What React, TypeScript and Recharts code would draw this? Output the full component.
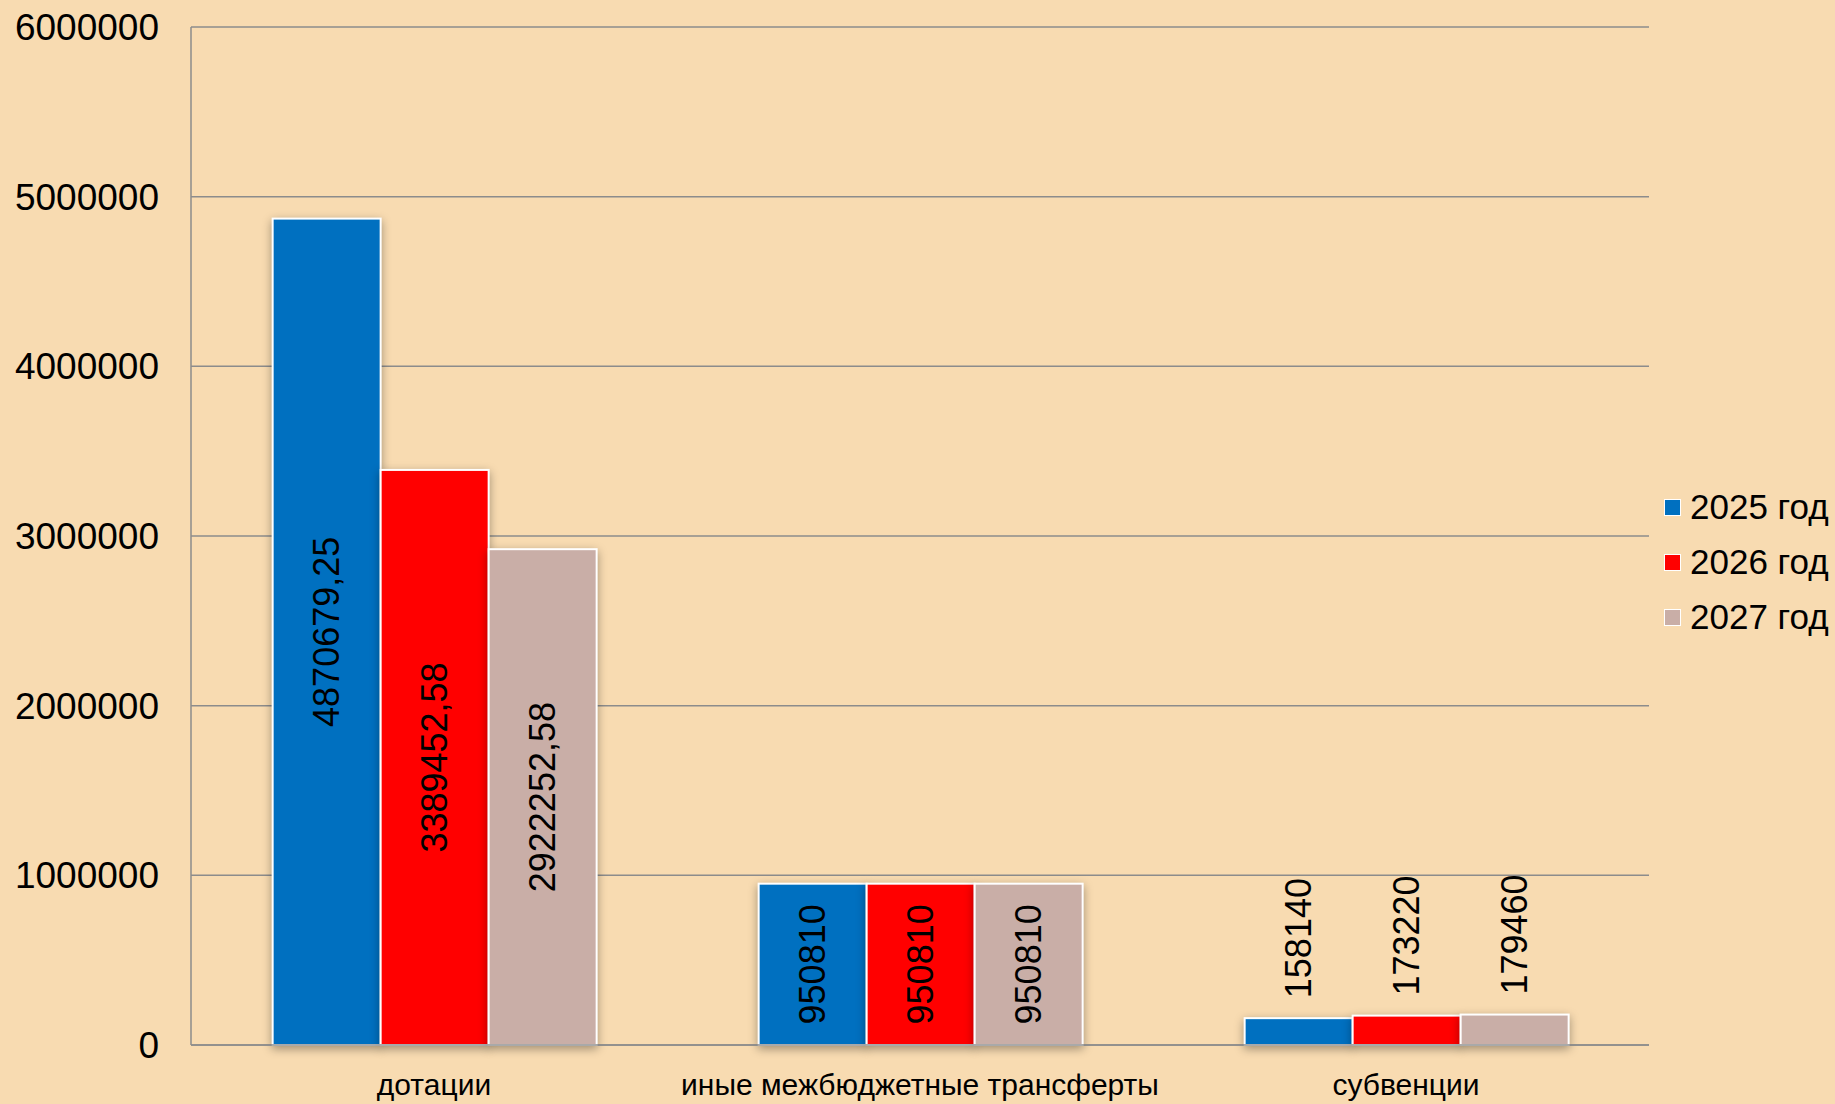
import React from "react";
import { BarChart, Bar, XAxis, YAxis, CartesianGrid, Legend, LabelList } from "recharts";

const categories = ["дотации", "иные межбюджетные трансферты", "субвенции"];
const values2025 = [4870679.25, 950810, 158140];
const values2026 = [3389452.58, 950810, 173220];
const values2027 = [2922252.58, 950810, 179460];
const seriesNames = ["2025 год", "2026 год", "2027 год"];
const seriesColors = ["#0070C0", "#FF0000", "#C9AEA7"];
const yTicks = [0, 1000000, 2000000, 3000000, 4000000, 5000000, 6000000];

const seriesKeys = ["y2025", "y2026", "y2027"];

const data = categories.map((name, i) => ({
  name,
  y2025: values2025[i],
  y2026: values2026[i],
  y2027: values2027[i],
}));

const FONT = '"Liberation Sans", Arial, sans-serif';
const BG = "#F8DBB1";
const GRID = "#8C8C8C";

const fmt = (v: number) => String(v).replace(".", ",");

// value label: centered inside when it fits, otherwise above the bar
const BarValueLabel = (props: any) => {
  const { x, y, width, height, value } = props;
  const fontSize = 36;
  const text = fmt(value);
  const textLen = text.length * 0.556 * fontSize;
  const cx = x + width / 2;
  if (height > textLen + 10) {
    const cy = y + height / 2;
    return (
      <text
        x={cx}
        y={cy}
        transform={`rotate(-90 ${cx} ${cy})`}
        textAnchor="middle"
        dominantBaseline="central"
        fontSize={fontSize}
        fontFamily={FONT}
        fill="#000"
      >
        {text}
      </text>
    );
  }
  const ay = y - 20;
  return (
    <text
      x={cx}
      y={ay}
      transform={`rotate(-90 ${cx} ${ay})`}
      textAnchor="start"
      dominantBaseline="central"
      fontSize={fontSize}
      fontFamily={FONT}
      fill="#000"
    >
      {text}
    </text>
  );
};

const ShadowBar = (props: any) => {
  const { x, y, width, height, fill } = props;
  return (
    <rect
      x={x}
      y={y}
      width={width}
      height={height}
      fill={fill}
      stroke="#FFFFFF"
      strokeWidth={2}
      style={{ filter: "drop-shadow(0px 3px 5px rgba(0,0,0,0.35))" }}
    />
  );
};

const XTick = (props: any) => {
  const { x, y, payload } = props;
  return (
    <text x={x} y={y} dy={50} textAnchor="middle" fontSize={30} fontFamily={FONT} fill="#000">
      {payload.value}
    </text>
  );
};

const LegendBox = () => (
  <div style={{ paddingLeft: 15, marginTop: 20, fontFamily: FONT }}>
    {seriesNames.map((n, i) => (
      <div key={n} style={{ display: "flex", alignItems: "center", height: 55, whiteSpace: "nowrap" }}>
        <span
          style={{
            display: "inline-block",
            width: 15,
            height: 15,
            background: seriesColors[i],
            border: "1.5px solid #fff",
            marginRight: 9,
          }}
        />
        <span style={{ fontSize: 35, color: "#000" }}>{n}</span>
      </div>
    ))}
  </div>
);

export default function App() {
  return (
    <div style={{ position: "fixed", left: 0, top: 0, width: 1835, height: 1104, background: BG }}>
      <style>{`body{margin:0;background:${BG};}`}</style>
      <BarChart
        width={1835}
        height={1104}
        data={data}
        margin={{ top: 27, right: 6, bottom: 0, left: 0 }}
        barCategoryGap="16.8%"
        barGap={0}
      >
        <CartesianGrid vertical={false} stroke={GRID} strokeWidth={1.5} />
        <XAxis
          dataKey="name"
          height={59}
          axisLine={{ stroke: GRID, strokeWidth: 1.5 }}
          tickLine={false}
          tickSize={0}
          tickMargin={0}
          tick={<XTick />}
          interval={0}
        />
        <YAxis
          width={191}
          domain={[0, 6000000]}
          ticks={yTicks}
          interval={0}
          axisLine={{ stroke: GRID, strokeWidth: 1.5 }}
          tickLine={false}
          tickSize={0}
          tickMargin={32}
          tick={{ fontSize: 37, fontFamily: FONT, fill: "#000" }}
        />
        <Legend
          layout="vertical"
          align="right"
          verticalAlign="middle"
          width={180}
          wrapperStyle={{ width: 180 }}
          content={<LegendBox />}
        />
        {seriesKeys.map((k, i) => (
          <Bar
            key={k}
            dataKey={k}
            name={seriesNames[i]}
            fill={seriesColors[i]}
            shape={<ShadowBar />}
            isAnimationActive={false}
          >
            <LabelList dataKey={k} content={<BarValueLabel />} />
          </Bar>
        ))}
      </BarChart>
    </div>
  );
}
